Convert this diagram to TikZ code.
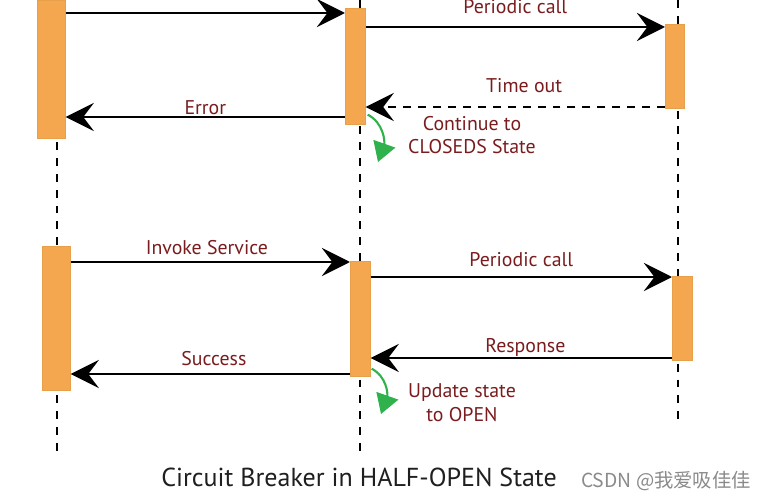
\documentclass[tikz,border=0pt]{standalone}
\usepackage{fontspec}
\setmainfont{PT Sans}
\newfontfamily\cjk{Noto Sans CJK SC}
\usetikzlibrary{arrows.meta,positioning}
\definecolor{barorange}{HTML}{F4A74E}
\definecolor{msgred}{HTML}{7A1C1E}
\definecolor{turngreen}{HTML}{2FB24B}
\definecolor{capgray}{HTML}{8A8A8A}
\tikzset{bar/.style={draw=barorange!95!black,line width=.4pt,fill=barorange,inner sep=0,anchor=north west},
msg/.style={line width=1.7pt,-{Stealth[length=16pt,width=16pt,inset=6pt]}},
ret/.style={msg,dash pattern=on 4.5pt off 4pt},
life/.style={line width=1.5pt,dash pattern=on 4.5pt off 4.5pt},
lbl/.style={font=\fontsize{11.3}{13.6}\selectfont,text=msgred,anchor=base,inner sep=0},
note/.style={font=\fontsize{11.3}{13.6}\selectfont,text=msgred,align=center,inner sep=0},
turn/.style={draw=turngreen,line width=1.2pt,-{Triangle[length=11pt,width=13pt]},turngreen}}
\begin{document}
\begin{tikzpicture}[x=0.02cm,y=-0.02cm]
\useasboundingbox (0,0) rectangle (768,500);
% lifelines
\coordinate (c1) at (57,0);\coordinate (c1e) at (57,455);
\coordinate (c2) at (360,0);\coordinate (c2e) at (360,452);
\coordinate (c3) at (678,0);\coordinate (c3e) at (678,423);
\draw[life] (c1)--(c1e);\draw[life] (c2)--(c2e);\draw[life] (c3)--(c3e);
% activation bars, top part
\node[bar,minimum width=.56cm,minimum height=2.76cm] (t1) at (37,0) {};
\node[bar,minimum width=.40cm,minimum height=2.32cm] (t2) at (345,8) {};
\node[bar,minimum width=.38cm,minimum height=1.68cm] (t3) at (665,24) {};
% activation bars, bottom part
\node[bar,minimum width=.56cm,minimum height=2.88cm] (b1) at (42,246) {};
\node[bar,minimum width=.40cm,minimum height=2.30cm] (b2) at (350,261) {};
\node[bar,minimum width=.40cm,minimum height=1.68cm] (b3) at (672,276) {};
% messages
\draw[msg] (t1.east |- 0,13) -- (t2.west |- 0,13);
\draw[msg] (t2.east |- 0,27) -- (t3.west |- 0,27) node[lbl,midway,yshift=7.4pt] (l1) {Periodic call};
\draw[ret] (t3.west |- 0,107) -- (t2.east |- 0,107) node[lbl,midway,yshift=8.5pt,xshift=5pt] (l2) {Time out};
\draw[msg] (t2.west |- 0,117) -- (t1.east |- 0,117) node[lbl,midway,yshift=1.7pt] (l3) {Error};
\draw[msg] (b1.east |- 0,262) -- (b2.west |- 0,262) node[lbl,midway,yshift=4pt,xshift=-2pt] (l4) {Invoke Service};
\draw[msg] (b2.east |- 0,277) -- (b3.west |- 0,277) node[lbl,midway,yshift=6.2pt] (l5) {Periodic call};
\draw[msg] (b3.west |- 0,358) -- (b2.east |- 0,358) node[lbl,midway,yshift=3.4pt,xshift=2.3pt] (l6) {Response};
\draw[msg] (b2.west |- 0,374) -- (b1.east |- 0,374) node[lbl,midway,yshift=5pt,xshift=2pt] (l7) {Success};
% state changes
\coordinate (tipA) at (378,162);\coordinate (tipB) at (381,414);
\draw[turn] ([shift={(2,-10)}]t2.south east) .. controls +(16,8) and +(7,-20) .. (tipA);
\draw[turn] ([shift={(1,-8)}]b2.south east) .. controls +(15,8) and +(7,-20) .. (tipB);
\node[note] (n1) at (472,135) {Continue to\\CLOSEDS State};
\node[note] (n2) at (462,403) {Update state\\to OPEN};
% caption
\node[font=\fontsize{14.8}{17}\selectfont,text=black!88] (cap) at (359,477) {Circuit Breaker in HALF-OPEN State};
\node[font=\cjk\fontsize{11}{13}\selectfont,text=capgray] (mark) at (666,481) {CSDN @我爱吸佳佳};
\end{tikzpicture}
\end{document}
